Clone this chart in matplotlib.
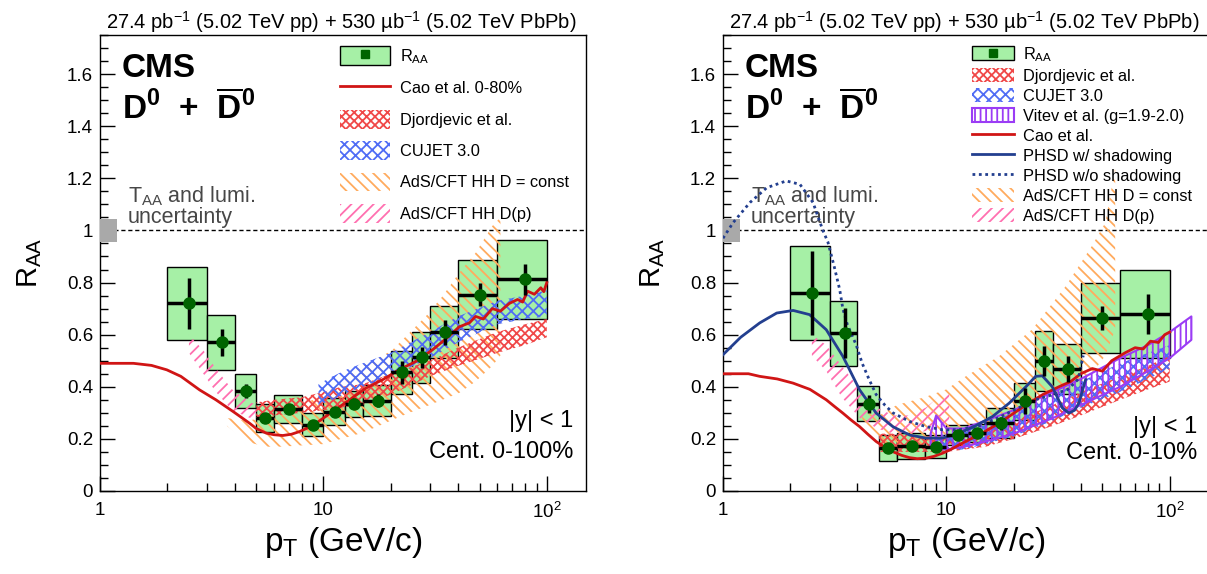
import numpy as np
import matplotlib.pyplot as plt
from matplotlib.patches import Patch
from matplotlib.lines import Line2D
from matplotlib.ticker import MultipleLocator, FixedLocator, FuncFormatter, NullFormatter, LogLocator

plt.rcParams['font.family'] = ['Liberation Sans', 'DejaVu Sans']
plt.rcParams['mathtext.fontset'] = 'custom'
plt.rcParams['mathtext.rm'] = 'Liberation Sans'
plt.rcParams['mathtext.it'] = 'Liberation Sans:italic'
plt.rcParams['mathtext.bf'] = 'Liberation Sans:bold'
plt.rcParams['hatch.linewidth'] = 1.3

# pT binning (GeV/c)
bin_lo = [2, 3, 4, 5, 6, 8, 10, 12.5, 15, 20, 25, 30, 40, 60]
bin_hi = [3, 4, 5, 6, 8, 10, 12.5, 15, 20, 25, 30, 40, 60, 100]
pt = [2.5, 3.5, 4.5, 5.5, 7, 9, 11.25, 13.75, 17.5, 22.5, 27.5, 35, 50, 80]

# D0 RAA, centrality 0-100%
raa_mb = [0.72, 0.57, 0.385, 0.28, 0.315, 0.255, 0.305, 0.335, 0.347, 0.455, 0.513, 0.61, 0.754, 0.812]
stat_mb = [0.098, 0.052, 0.027, 0.02, 0.02, 0.016, 0.016, 0.02, 0.025, 0.043, 0.04, 0.048, 0.043, 0.058]
syst_mb = [0.14, 0.105, 0.065, 0.053, 0.053, 0.044, 0.053, 0.05, 0.061, 0.083, 0.097, 0.10, 0.133, 0.15]

# D0 RAA, centrality 0-10%
raa_c = [0.76, 0.606, 0.335, 0.164, 0.173, 0.17, 0.215, 0.224, 0.26, 0.344, 0.50, 0.468, 0.664, 0.68]
stat_c = [0.16, 0.095, 0.035, 0.012, 0.012, 0.012, 0.015, 0.018, 0.025, 0.05, 0.058, 0.05, 0.045, 0.077]
syst_c = [0.18, 0.125, 0.068, 0.05, 0.05, 0.045, 0.04, 0.035, 0.057, 0.07, 0.115, 0.095, 0.135, 0.17]

# global TAA + lumi uncertainty
lumi_unc = 0.045

# --- models, 0-100% ---
cao_mb_pt = [1.0, 1.41, 1.7, 1.99, 2.3, 2.79, 3.3, 3.94, 4.3, 4.67, 5.0, 5.55, 6.0, 6.58, 7.2, 7.81, 8.5,
             9.27, 11.0, 13.1, 15.5, 18.4, 21.8, 25.9, 30.8, 36.5, 40.5, 45, 48, 52, 57, 62, 68, 74, 78,
             82, 88, 94, 97, 100]
cao_mb = [0.49, 0.49, 0.482, 0.465, 0.44, 0.388, 0.35, 0.305, 0.282, 0.26, 0.24, 0.222, 0.216, 0.213, 0.218,
          0.228, 0.242, 0.26, 0.305, 0.35, 0.395, 0.427, 0.465, 0.497, 0.542, 0.594, 0.63, 0.645, 0.67, 0.66,
          0.70, 0.69, 0.72, 0.735, 0.725, 0.767, 0.755, 0.78, 0.765, 0.80]

djo_mb_pt = [5, 6, 8, 10, 12, 15, 20, 30, 40, 60, 80, 100]
djo_mb_lo = [0.28, 0.29, 0.30, 0.31, 0.32, 0.33, 0.37, 0.44, 0.48, 0.53, 0.56, 0.59]
djo_mb_hi = [0.34, 0.35, 0.36, 0.38, 0.40, 0.41, 0.45, 0.50, 0.55, 0.61, 0.64, 0.66]

cujet_mb_pt = [9.5, 11, 13, 15, 20, 30, 40, 60, 80, 100]
cujet_mb_lo = [0.33, 0.35, 0.38, 0.40, 0.44, 0.51, 0.57, 0.64, 0.66, 0.67]
cujet_mb_hi = [0.41, 0.44, 0.47, 0.49, 0.53, 0.61, 0.67, 0.73, 0.75, 0.77]

adsc_mb_pt = [3.7, 4.5, 5.5, 6.5, 8, 10, 12, 14.5, 17.2, 20.4, 24.2, 28.7, 34.1, 40.5, 48, 57, 62]
adsc_mb_lo = [0.25, 0.19, 0.17, 0.17, 0.175, 0.18, 0.20, 0.22, 0.245, 0.273, 0.30, 0.324, 0.35, 0.376, 0.42, 0.48, 0.52]
adsc_mb_hi = [0.28, 0.27, 0.28, 0.30, 0.33, 0.37, 0.42, 0.478, 0.504, 0.542, 0.606, 0.67, 0.747, 0.837, 0.914, 1.017, 1.05]

adsp_mb_pt = [2.5, 2.9, 3.3, 3.9, 4.7, 5.5]
adsp_mb_lo = [0.53, 0.45, 0.38, 0.31, 0.28, 0.27]
adsp_mb_hi = [0.60, 0.54, 0.47, 0.39, 0.34, 0.32]

# --- models, 0-10% ---
cao_c_pt = [1.0, 1.3, 1.46, 1.75, 2.06, 2.45, 2.9, 3.15, 3.44, 3.75, 4.09, 4.45, 4.85, 5.3, 5.76, 6.3, 6.84,
            7.4, 8.11, 8.8, 9.62, 10.5, 11.4, 12.5, 14.0, 17.2, 22.7, 27, 31.9, 36, 40, 45, 50, 55, 63, 70,
            76, 82, 89, 95, 100]
cao_c = [0.45, 0.45, 0.44, 0.43, 0.414, 0.39, 0.35, 0.325, 0.299, 0.272, 0.247, 0.218, 0.19, 0.168, 0.151,
         0.137, 0.128, 0.124, 0.126, 0.133, 0.145, 0.16, 0.177, 0.195, 0.215, 0.26, 0.33, 0.37, 0.40, 0.42,
         0.45, 0.47, 0.46, 0.50, 0.53, 0.55, 0.545, 0.575, 0.57, 0.60, 0.61]

phsd_pt = [1.0, 1.2, 1.46, 1.74, 2.06, 2.44, 2.9, 3.44, 4.09, 4.85, 5.76, 6.84, 8.11, 9.62, 11.4, 13.5, 16.1,
           19.1, 22.7, 25.1, 26.9, 29.8, 33.1, 35.4, 37.5, 39.2, 42.0]
phsd = [0.523, 0.59, 0.645, 0.683, 0.693, 0.677, 0.619, 0.517, 0.388, 0.299, 0.247, 0.215, 0.203, 0.203,
        0.222, 0.25, 0.286, 0.337, 0.40, 0.44, 0.442, 0.40, 0.318, 0.299, 0.31, 0.337, 0.427]

phsd_ns_pt = [1.0, 1.11, 1.32, 1.57, 1.92, 2.21, 2.53, 2.80, 2.95, 3.15, 3.33, 3.44, 3.6, 3.95, 4.2, 4.5, 4.85,
              5.3, 5.76, 6.84, 8.11, 9.62, 11.4, 14, 17, 20, 25, 30, 35, 39, 41]
phsd_ns = [0.97, 1.03, 1.107, 1.164, 1.19, 1.177, 1.107, 1.0, 0.955, 0.86, 0.773, 0.70, 0.64, 0.56, 0.49, 0.43,
           0.37, 0.33, 0.30, 0.267, 0.247, 0.235, 0.235, 0.25, 0.28, 0.31, 0.35, 0.37, 0.39, 0.43, 0.52]

djo_c_pt = [5, 6, 8, 10, 15, 20, 30, 40, 60, 80, 100]
djo_c_lo = [0.15, 0.15, 0.15, 0.15, 0.17, 0.20, 0.25, 0.29, 0.35, 0.39, 0.42]
djo_c_hi = [0.22, 0.22, 0.21, 0.21, 0.24, 0.27, 0.33, 0.38, 0.44, 0.48, 0.52]

cujet_c_pt = [9, 12, 15, 20, 30, 40, 60, 80, 100]
cujet_c_lo = [0.15, 0.16, 0.18, 0.21, 0.27, 0.32, 0.38, 0.43, 0.47]
cujet_c_hi = [0.21, 0.23, 0.26, 0.30, 0.37, 0.42, 0.49, 0.53, 0.56]

vitev_pt = [8.5, 9, 10, 12, 15, 20, 30, 40, 60, 80, 100, 125]
vitev_lo = [0.17, 0.16, 0.16, 0.17, 0.19, 0.22, 0.28, 0.33, 0.40, 0.46, 0.51, 0.58]
vitev_hi = [0.22, 0.29, 0.24, 0.24, 0.27, 0.31, 0.38, 0.43, 0.51, 0.56, 0.61, 0.67]

adsc_c_pt = [4.2, 5, 6, 8, 10, 12.2, 17.2, 24.2, 34.2, 44.8, 51.5, 57]
adsc_c_lo = [0.26, 0.18, 0.165, 0.17, 0.19, 0.21, 0.26, 0.32, 0.38, 0.45, 0.52, 0.62]
adsc_c_hi = [0.30, 0.29, 0.33, 0.36, 0.39, 0.44, 0.517, 0.62, 0.786, 0.94, 1.03, 1.24]

adsp_c_pt = [2.5, 2.9, 3.4, 4.1, 4.9, 5.8, 6.8, 8.1, 9.2, 10.3]
adsp_c_lo = [0.52, 0.46, 0.36, 0.28, 0.24, 0.22, 0.22, 0.23, 0.25, 0.27]
adsp_c_hi = [0.60, 0.56, 0.48, 0.39, 0.32, 0.29, 0.29, 0.32, 0.36, 0.40]

# styles
box_green = '#a6f0a6'
dot_green = '#006400'
red = '#d01515'
navy = '#233f8f'
sty_djo = dict(facecolor='none', edgecolor='#f04848', hatch='xxxx', linewidth=0)
sty_cujet = dict(facecolor='none', edgecolor='#4f6cf5', hatch='xxx', linewidth=0)
sty_adsc = dict(facecolor='none', edgecolor='#ffab5e', hatch='\\\\\\', linewidth=0)
sty_adsp = dict(facecolor='none', edgecolor='#ff70b0', hatch='///', linewidth=0)
sty_vitev = dict(facecolor='none', edgecolor='#9b3cf5', hatch='|||', linewidth=1.5)

header = '27.4 pb$^{-1}$ (5.02 TeV pp) + 530 µb$^{-1}$ (5.02 TeV PbPb)'


def draw_data(ax, raa, stat, syst):
    lo = np.array(bin_lo)
    hi = np.array(bin_hi)
    x = np.array(pt)
    y = np.array(raa)
    s = np.array(syst)
    ax.bar(lo, 2 * s, width=hi - lo, bottom=y - s, align='edge',
           color=box_green, edgecolor='k', linewidth=1, zorder=1)
    return x, y, lo, hi


def draw_points(ax, x, y, lo, hi, stat):
    ax.errorbar(x, y, yerr=stat, xerr=[x - lo, hi - x], fmt='none',
                ecolor='k', elinewidth=2.5, capsize=0, zorder=6)
    ax.plot(x, y, 'o', color=dot_green, ms=8, zorder=7)


def setup_axes(ax):
    ax.set_xscale('log')
    ax.set_xlim(1, 150)
    ax.set_ylim(0, 1.75)
    ax.xaxis.set_major_locator(FixedLocator([1, 10, 100]))
    ax.xaxis.set_major_formatter(FuncFormatter(
        lambda v, _: {1: '1', 10: '10', 100: '10$^{2}$'}.get(int(round(v)), '')))
    ax.xaxis.set_minor_locator(LogLocator(base=10, subs=np.arange(2, 10)))
    ax.xaxis.set_minor_formatter(NullFormatter())
    ax.yaxis.set_major_locator(MultipleLocator(0.2))
    ax.yaxis.set_minor_locator(MultipleLocator(0.05))
    ax.yaxis.set_major_formatter(FuncFormatter(lambda v, _: '%g' % round(v, 2)))
    ax.tick_params(which='both', direction='in', top=False, right=False, labelsize=13.5)
    ax.tick_params(which='major', length=11, width=1)
    ax.tick_params(which='minor', length=5.5, width=1)
    ax.tick_params(axis='x', pad=8)
    ax.tick_params(axis='y', pad=5)
    for sp in ax.spines.values():
        sp.set_linewidth(1)
    ax.axhline(1, color='k', ls=(0, (3, 2)), lw=1, zorder=2)
    ax.bar(1, 2 * lumi_unc, width=0.19, bottom=1 - lumi_unc, align='edge',
           color='#a9a9a9', linewidth=0, zorder=3)
    ax.set_xlabel('p$_{\\rm T}$ (GeV/c)', fontsize=24, labelpad=2)
    ax.set_ylabel('R$_{\\rm AA}$', fontsize=21)
    ax.yaxis.set_label_coords(-0.115, 0.5)
    ax.text(0.981, 1.013, header, transform=ax.transAxes, ha='right', va='baseline', fontsize=14.5)
    ax.text(0.045, 0.908, 'CMS', transform=ax.transAxes, fontsize=24, fontweight='bold', va='baseline')
    ax.text(0.045, 0.816, r'$\mathbf{D^0}$  +  $\mathbf{\overline{D}^0}$', transform=ax.transAxes,
            fontsize=24, fontweight='bold', va='baseline')
    ax.text(0.057, 0.634, 'T$_{\\rm AA}$ and lumi.', transform=ax.transAxes, fontsize=15.5,
            color='#474747', va='baseline')
    ax.text(0.057, 0.588, 'uncertainty', transform=ax.transAxes, fontsize=15.5,
            color='#474747', va='baseline')


def band(ax, x, lo, hi, sty):
    ax.fill_between(x, lo, hi, zorder=4, **sty)


fig = plt.figure(figsize=(12.07, 5.74), dpi=100)
ax1 = fig.add_axes([0.0829, 0.1446, 0.4027, 0.7944])
ax2 = fig.add_axes([0.599, 0.1446, 0.4027, 0.7944])

# ---- left: 0-100% ----
setup_axes(ax1)
x, y, lo, hi = draw_data(ax1, raa_mb, stat_mb, syst_mb)
band(ax1, adsc_mb_pt, adsc_mb_lo, adsc_mb_hi, sty_adsc)
band(ax1, adsp_mb_pt, adsp_mb_lo, adsp_mb_hi, sty_adsp)
band(ax1, djo_mb_pt, djo_mb_lo, djo_mb_hi, sty_djo)
band(ax1, cujet_mb_pt, cujet_mb_lo, cujet_mb_hi, sty_cujet)
ax1.plot(cao_mb_pt, cao_mb, color=red, lw=2, zorder=5)
draw_points(ax1, x, y, lo, hi, stat_mb)
ax1.text(0.973, 0.141, '|y| < 1', transform=ax1.transAxes, ha='right', va='baseline', fontsize=17)
ax1.text(0.973, 0.073, 'Cent. 0-100%', transform=ax1.transAxes, ha='right', va='baseline', fontsize=17)

h_raa = (Patch(facecolor=box_green, edgecolor='k', linewidth=1),
         Line2D([], [], marker='s', color=dot_green, ls='none', ms=6))
handles1 = [h_raa,
            Line2D([], [], color=red, lw=2),
            Patch(**sty_djo),
            Patch(**sty_cujet),
            Patch(**sty_adsc),
            Patch(**sty_adsp)]
labels1 = ['R$_{\\rm AA}$', 'Cao et al. 0-80%', 'Djordjevic et al.', 'CUJET 3.0',
           'AdS/CFT HH D = const', 'AdS/CFT HH D(p)']
ax1.legend(handles1, labels1, loc='upper left', bbox_to_anchor=(0.494, 0.975), frameon=False,
           fontsize=11.8, borderpad=0, borderaxespad=0, handlelength=3.05, handleheight=1.38,
           handletextpad=0.6, labelspacing=0.77)

# ---- right: 0-10% ----
setup_axes(ax2)
x, y, lo, hi = draw_data(ax2, raa_c, stat_c, syst_c)
band(ax2, adsc_c_pt, adsc_c_lo, adsc_c_hi, sty_adsc)
band(ax2, adsp_c_pt, adsp_c_lo, adsp_c_hi, sty_adsp)
band(ax2, djo_c_pt, djo_c_lo, djo_c_hi, sty_djo)
band(ax2, cujet_c_pt, cujet_c_lo, cujet_c_hi, sty_cujet)
band(ax2, vitev_pt, vitev_lo, vitev_hi, sty_vitev)
ax2.plot(cao_c_pt, cao_c, color=red, lw=2, zorder=5)
ax2.plot(phsd_pt, phsd, color=navy, lw=2, zorder=5)
ax2.plot(phsd_ns_pt, phsd_ns, color=navy, lw=2, ls=(0, (1, 1.3)), zorder=5)
draw_points(ax2, x, y, lo, hi, stat_c)
ax2.text(0.975, 0.127, '|y| < 1', transform=ax2.transAxes, ha='right', va='baseline', fontsize=17)
ax2.text(0.975, 0.0695, 'Cent. 0-10%', transform=ax2.transAxes, ha='right', va='baseline', fontsize=17)

handles2 = [h_raa,
            Patch(**sty_djo),
            Patch(**sty_cujet),
            Patch(**sty_vitev),
            Line2D([], [], color=red, lw=2),
            Line2D([], [], color=navy, lw=2),
            Line2D([], [], color=navy, lw=2, ls=(0, (1, 1.3))),
            Patch(**sty_adsc),
            Patch(**sty_adsp)]
labels2 = ['R$_{\\rm AA}$', 'Djordjevic et al.', 'CUJET 3.0', 'Vitev et al. (g=1.9-2.0)', 'Cao et al.',
           'PHSD w/ shadowing', 'PHSD w/o shadowing', 'AdS/CFT HH D = const', 'AdS/CFT HH D(p)']
ax2.legend(handles2, labels2, loc='upper left', bbox_to_anchor=(0.512, 0.978), frameon=False,
           fontsize=11.8, borderpad=0, borderaxespad=0, handlelength=2.6, handleheight=0.92,
           handletextpad=0.55, labelspacing=0.27)

fig.savefig('out.png', dpi=100)
